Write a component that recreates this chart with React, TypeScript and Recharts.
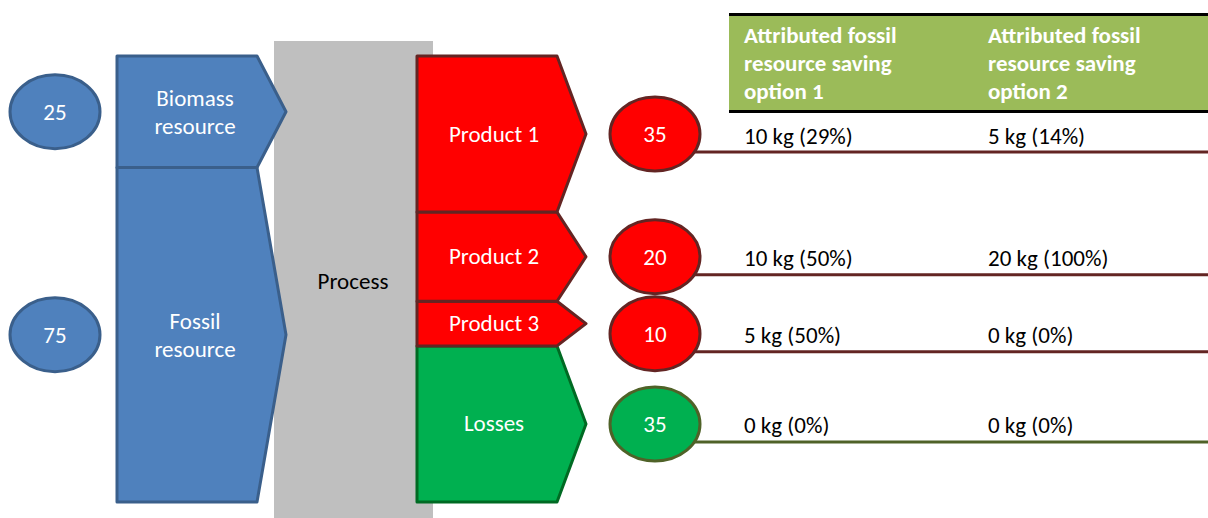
import { Bar, BarChart, Customized, XAxis, YAxis } from "recharts";

const columns = ["inputs", "resources", "process", "products", "outputs"];

const resourceNames = ["Biomass resource", "Fossil resource"];
const resourceAmounts = [25, 75];

const processLabel = "Process";

const productNames = ["Product 1", "Product 2", "Product 3", "Losses"];
const productAmounts = [35, 20, 10, 35];

// kg of fossil resource saved, per output row
const savingOption1 = [10, 10, 5, 0];
const savingOption2 = [5, 20, 0, 0];

const optionHeaders = [
  ["Attributed fossil", "resource saving", "option 1"],
  ["Attributed fossil", "resource saving", "option 2"],
];

const lossName = "Losses";

const WIDTH = 1208;
const HEIGHT = 518;
const FONT = "Carlito, Calibri, Lato, sans-serif";
const FONT_SIZE = 23;
const TABLE_LEFT = 729;
const TABLE_COLS = [744, 988];
const BUBBLE_RX = 45;
const BUBBLE_RY = 37;

const colors = {
  blue: "#4F81BD",
  blueEdge: "#3A5F8B",
  gray: "#BFBFBF",
  red: "#FF0000",
  redEdge: "#632523",
  green: "#00B050",
  greenEdge: "#006A23",
  lossLine: "#4F6228",
  header: "#9BBB59",
};

const resourceKeys = resourceNames.map((_, i) => `r${i}`);
const productKeys = productNames.map((_, i) => `p${i}`);
const processTotal = resourceAmounts.reduce((a, b) => a + b, 0);

const rows = columns.map((col) => {
  const row: Record<string, string | number> = { col, process: 0 };
  resourceKeys.forEach((k, i) => {
    row[k] = col === "inputs" || col === "resources" ? resourceAmounts[i] : 0;
  });
  productKeys.forEach((k, i) => {
    row[k] = col === "products" || col === "outputs" ? productAmounts[i] : 0;
  });
  if (col === "process") row.process = processTotal;
  return row;
});

type ShapeProps = {
  x?: number;
  y?: number;
  width?: number;
  height?: number;
  payload?: { col: string };
};

// centre of output bubble i, from the segment's scaled geometry, pushed down so bubbles don't overlap
function outputCenter(i: number, y: number, height: number) {
  const unit = height / productAmounts[i];
  let top = y - productAmounts.slice(0, i).reduce((a, b) => a + b, 0) * unit;
  const mids: number[] = [];
  productAmounts.forEach((v, k) => {
    let m = top + (v * unit) / 2;
    if (k > 0) m = Math.max(m, mids[k - 1] + BUBBLE_RY * 2 + 3);
    mids.push(m);
    top += v * unit;
  });
  return mids[i];
}

function Pentagon({
  cx,
  top,
  bottom,
  fill,
  stroke,
}: {
  cx: number;
  top: number;
  bottom: number;
  fill: string;
  stroke: string;
}) {
  const mid = (top + bottom) / 2;
  const points = [
    [cx - 88, top],
    [cx + 52, top],
    [cx + 81, mid],
    [cx + 52, bottom],
    [cx - 88, bottom],
  ]
    .map((p) => p.join(","))
    .join(" ");
  return (
    <polygon
      points={points}
      fill={fill}
      stroke={stroke}
      strokeWidth={3}
      strokeLinejoin="round"
    />
  );
}

function Bubble({
  cx,
  cy,
  value,
  fill,
  stroke,
}: {
  cx: number;
  cy: number;
  value: number;
  fill: string;
  stroke: string;
}) {
  return (
    <g>
      <ellipse cx={cx} cy={cy} rx={BUBBLE_RX} ry={BUBBLE_RY} fill={fill} stroke={stroke} strokeWidth={3} />
      <text x={cx} y={cy + 8} textAnchor="middle" fill="#fff" fontSize={FONT_SIZE} fontFamily={FONT}>
        {value}
      </text>
    </g>
  );
}

function resourceShape(i: number) {
  return (props: ShapeProps) => {
    const { x = 0, y = 0, width = 0, height = 0, payload } = props;
    if (!(height > 0) || !payload) return <g />;
    const cx = x + width / 2;
    const mid = y + height / 2;
    if (payload.col === "inputs") {
      return (
        <Bubble cx={cx} cy={mid} value={resourceAmounts[i]} fill={colors.blue} stroke={colors.blueEdge} />
      );
    }
    const words = resourceNames[i].split(" ");
    return (
      <g>
        <Pentagon cx={cx} top={y} bottom={y + height} fill={colors.blue} stroke={colors.blueEdge} />
        <text textAnchor="middle" fill="#fff" fontSize={FONT_SIZE} fontFamily={FONT}>
          {words.map((w, j) => (
            <tspan key={w} x={cx - 10} y={mid - 6 + j * 28}>
              {w}
            </tspan>
          ))}
        </text>
      </g>
    );
  };
}

function processShape(props: ShapeProps) {
  const { x = 0, y = 0, width = 0, height = 0 } = props;
  if (!(height > 0)) return <g />;
  const cx = x + width / 2;
  const top = y - 15;
  const bottom = y + height + 16;
  return (
    <g>
      <rect x={cx - 81} y={top} width={159} height={bottom - top} fill={colors.gray} />
      <text
        x={cx - 2}
        y={(top + bottom) / 2 + 9}
        textAnchor="middle"
        fill="#000"
        fontSize={FONT_SIZE}
        fontFamily={FONT}
      >
        {processLabel}
      </text>
    </g>
  );
}

function productShape(i: number) {
  const isLoss = productNames[i] === lossName;
  const fill = isLoss ? colors.green : colors.red;
  return (props: ShapeProps) => {
    const { x = 0, y = 0, width = 0, height = 0, payload } = props;
    if (!(height > 0) || !payload) return <g />;
    const cx = x + width / 2;
    const mid = y + height / 2;
    if (payload.col === "products") {
      return (
        <g>
          <Pentagon
            cx={cx}
            top={y}
            bottom={y + height}
            fill={fill}
            stroke={isLoss ? colors.greenEdge : colors.redEdge}
          />
          <text x={cx - 11} y={mid + 7.5} textAnchor="middle" fill="#fff" fontSize={FONT_SIZE} fontFamily={FONT}>
            {productNames[i]}
          </text>
        </g>
      );
    }
    const cy = outputCenter(i, y, height);
    const edge = isLoss ? colors.lossLine : colors.redEdge;
    const amount = productAmounts[i];
    const cells = [savingOption1[i], savingOption2[i]].map(
      (kg) => `${kg} kg (${Math.round((kg / amount) * 100)}%)`
    );
    return (
      <g>
        <line x1={cx + 38} x2={WIDTH} y1={cy + 18} y2={cy + 18} stroke={edge} strokeWidth={3} />
        <Bubble cx={cx} cy={cy} value={amount} fill={fill} stroke={edge} />
        {cells.map((c, j) => (
          <text key={j} x={TABLE_COLS[j]} y={cy + 9.5} fill="#000" fontSize={FONT_SIZE} fontFamily={FONT}>
            {c}
          </text>
        ))}
      </g>
    );
  };
}

function TableHeader() {
  return (
    <g>
      <rect x={TABLE_LEFT} y={15} width={WIDTH - TABLE_LEFT} height={96} fill={colors.header} />
      <line x1={TABLE_LEFT} x2={WIDTH} y1={14.5} y2={14.5} stroke="#000" strokeWidth={3} />
      <line x1={TABLE_LEFT} x2={WIDTH} y1={111.5} y2={111.5} stroke="#000" strokeWidth={3} />
      {optionHeaders.map((lines, j) => (
        <text key={j} fill="#fff" fontSize={FONT_SIZE} fontWeight="bold" fontFamily={FONT}>
          {lines.map((l, k) => (
            <tspan key={k} x={TABLE_COLS[j]} y={43 + k * 28}>
              {l}
            </tspan>
          ))}
        </text>
      ))}
    </g>
  );
}

export default function App() {
  return (
    <div style={{ position: "absolute", left: 0, top: 0, width: WIDTH, height: HEIGHT, background: "#fff" }}>
      <BarChart
        width={WIDTH}
        height={HEIGHT}
        data={rows}
        margin={{ top: 56, right: WIDTH - 730, bottom: 16, left: -20 }}
        barSize={100}
      >
        <XAxis dataKey="col" hide />
        <YAxis type="number" domain={[0, 100]} hide />
        <Bar dataKey="process" stackId="flow" shape={processShape} isAnimationActive={false} />
        {resourceKeys
          .map((k, i) => ({ k, i }))
          .reverse()
          .map(({ k, i }) => (
            <Bar key={k} dataKey={k} stackId="flow" shape={resourceShape(i)} isAnimationActive={false} />
          ))}
        {productKeys
          .map((k, i) => ({ k, i }))
          .reverse()
          .map(({ k, i }) => (
            <Bar key={k} dataKey={k} stackId="flow" shape={productShape(i)} isAnimationActive={false} />
          ))}
        <Customized component={TableHeader} />
      </BarChart>
    </div>
  );
}
